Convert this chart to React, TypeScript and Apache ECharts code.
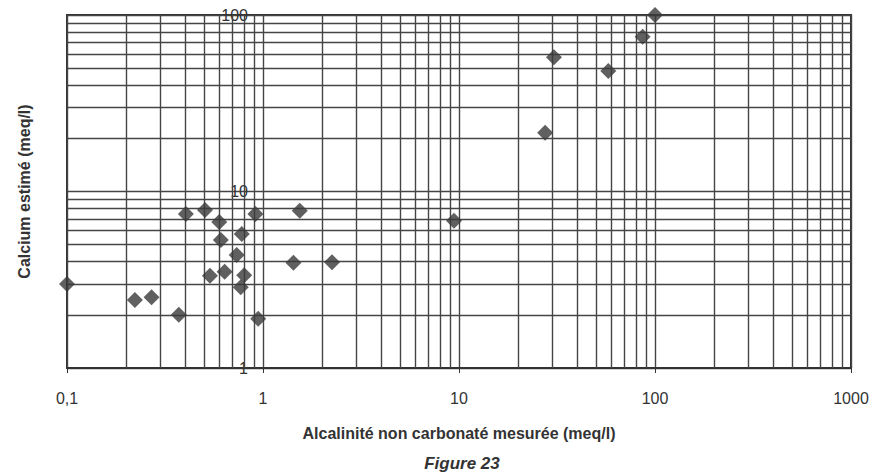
import React, { useEffect, useRef } from 'react';
import * as echarts from 'echarts';

// Alcalinité non carbonaté mesurée (meq/l)
const xValues = [
  0.1, 0.222, 0.27, 0.372, 0.404, 0.506, 0.598, 0.609, 0.536, 0.637,
  0.779, 0.734, 0.802, 0.77, 0.915, 0.945, 1.43, 1.54, 2.25, 9.43,
  27.5, 30.5, 57.8, 86.5, 100,
];
// Calcium estimé (meq/l)
const yValues = [
  2.99, 2.43, 2.52, 2.0, 7.46, 7.86, 6.72, 5.31, 3.33, 3.51,
  5.75, 4.37, 3.35, 2.87, 7.46, 1.9, 3.95, 7.79, 3.97, 6.83,
  21.5, 57.6, 48.2, 75.4, 100,
];

const xMinorGrid = [
  0.2, 0.3, 0.4, 0.5, 0.6, 0.7, 0.8, 0.9,
  2, 3, 4, 5, 6, 7, 8, 9,
  20, 30, 40, 50, 60, 70, 80, 90,
  200, 300, 400, 500, 600, 700, 800, 900,
];
const yMinorGrid = [
  2, 3, 4, 5, 6, 7, 8, 9,
  20, 30, 40, 50, 60, 70, 80, 90,
];

const xAxisTitle = 'Alcalinité non carbonaté mesurée (meq/l)';
const yAxisTitle = 'Calcium estimé (meq/l)';
const figureTitle = 'Figure 23';

export default function App() {
  const ref = useRef<HTMLDivElement>(null);

  useEffect(() => {
    document.body.style.margin = '0';
    const chart = echarts.init(ref.current as HTMLDivElement, null, { renderer: 'svg' });
    const font = 'Liberation Sans, Arial, sans-serif';
    const textColor = '#333333';
    const gridColor = '#454545';

    chart.setOption({
      animation: false,
      backgroundColor: '#ffffff',
      title: {
        text: figureTitle,
        left: 457,
        top: 450,
        textAlign: 'center',
        textStyle: {
          fontFamily: font,
          fontSize: 17,
          fontWeight: 'bold',
          fontStyle: 'italic',
          color: textColor,
        },
      },
      grid: {
        left: 67,
        right: 23,
        top: 15,
        bottom: 105,
        show: true,
        borderColor: '#333333',
        borderWidth: 2,
        backgroundColor: 'transparent',
      },
      xAxis: {
        type: 'log',
        logBase: 10,
        min: 0.1,
        max: 1000,
        name: xAxisTitle,
        nameLocation: 'middle',
        nameGap: 57,
        nameTextStyle: {
          fontFamily: font,
          fontSize: 16,
          fontWeight: 'bold',
          color: textColor,
        },
        axisLine: { show: true, lineStyle: { color: '#333333', width: 2 } },
        axisTick: { show: true, length: 5, lineStyle: { color: '#333333', width: 1 } },
        axisLabel: {
          margin: 22,
          fontFamily: font,
          fontSize: 16,
          color: textColor,
          formatter: (v: number) => String(+Number(v).toPrecision(6)).replace('.', ','),
        },
        splitLine: { show: true, lineStyle: { color: gridColor, width: 1.4 } },
      },
      yAxis: {
        type: 'log',
        logBase: 10,
        min: 1,
        max: 100,
        name: yAxisTitle,
        nameLocation: 'middle',
        nameGap: 35,
        nameTextStyle: {
          fontFamily: font,
          fontSize: 16,
          fontWeight: 'bold',
          color: textColor,
        },
        axisLine: { show: false },
        axisTick: { show: false },
        axisLabel: {
          margin: -181,
          fontFamily: font,
          fontSize: 16,
          color: textColor,
        },
        splitLine: { show: true, lineStyle: { color: gridColor, width: 1.4 } },
      },
      series: [
        {
          type: 'scatter',
          data: [],
          z: 1,
          silent: true,
          markLine: {
            silent: true,
            symbol: 'none',
            animation: false,
            label: { show: false },
            lineStyle: { color: gridColor, width: 1.4, type: 'solid' },
            emphasis: { disabled: true },
            data: [
              ...xMinorGrid.map((v) => ({ xAxis: v })),
              ...yMinorGrid.map((v) => ({ yAxis: v })),
            ],
          },
        },
        {
          type: 'scatter',
          z: 5,
          symbol: 'diamond',
          symbolSize: 16,
          itemStyle: { color: '#383838' },
          data: xValues.map((x, i) => [x, yValues[i]]),
        },
      ],
    });

    return () => chart.dispose();
  }, []);

  return <div ref={ref} style={{ width: 874, height: 473 }} />;
}
